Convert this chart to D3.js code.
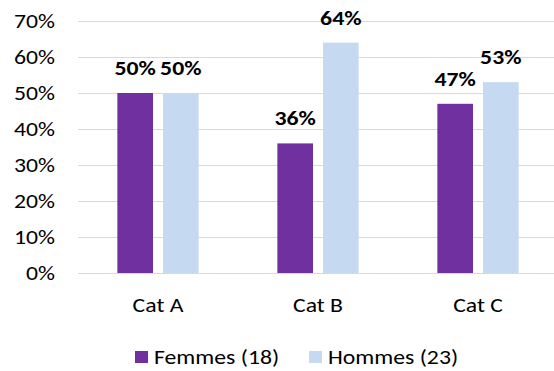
<!DOCTYPE html>
<html>
<head>
<meta charset="utf-8">
<script src="https://cdn.jsdelivr.net/npm/d3@7"></script>
<style>
	body { margin: 0; background: #fff; }
	svg text { font-family: Carlito, Calibri, Lato, sans-serif; fill: #000; }
</style>
</head>
<body>
<svg id="chart" width="554" height="371"></svg>
<script>
// chart data
const categories = ["Cat A", "Cat B", "Cat C"]
const seriesNames = ["Femmes (18)", "Hommes (23)"]
const femmes = [50, 36, 47]
const hommes = [50, 64, 53]
const yTicks = [0, 10, 20, 30, 40, 50, 60, 70]
const colors = ["#7030A0", "#C5D9F1"]

const fontFamily = "Carlito, Calibri, Lato, sans-serif"
const fontSize = "21px"
const textStretch = 1.13 // the source image is a little wider than Calibri
const svg = d3.select("#chart")

const x0 = d3.scaleBand().domain(categories).range([78, 558])
	.paddingInner(0.492).paddingOuter(0.246)
const x1 = d3.scaleBand().domain([0, 1]).range([0, x0.bandwidth()])
	.paddingInner(0.219).paddingOuter(0)
const y = d3.scaleLinear().domain([0, 70]).range([273, 21])

// gridlines
svg.append("g").selectAll("line")
	.data(yTicks)
	.join("line")
	.attr("x1", 78).attr("x2", 554)
	.attr("y1", d => Math.round(y(d)) + 0.5)
	.attr("y2", d => Math.round(y(d)) + 0.5)
	.attr("stroke", "#D9D9D9")
	.attr("stroke-width", 1)

// y axis labels
const yAxis = d3.axisLeft(y).tickValues(yTicks).tickFormat(d => d + "%").tickSize(0).tickPadding(0)
const yAxisGroup = svg.append("g").attr("transform", "translate(55,0)").call(yAxis)
yAxisGroup.select(".domain").remove()
yAxisGroup.selectAll("text")
	.style("font-size", fontSize)
	.style("font-family", fontFamily)
	.attr("dy", "0.33em")

// bars
const rows = categories.map((c, i) => ({cat: c, vals: [femmes[i], hommes[i]]}))
const groups = svg.append("g").selectAll("g")
	.data(rows)
	.join("g")
	.attr("transform", d => "translate(" + x0(d.cat) + ",0)")

groups.selectAll("rect")
	.data(d => d.vals.map((v, k) => ({k: k, v: v})))
	.join("rect")
	.attr("x", d => x1(d.k))
	.attr("width", x1.bandwidth())
	.attr("y", d => y(d.v))
	.attr("height", d => y(0) - y(d.v))
	.attr("fill", d => colors[d.k])

// value labels
groups.selectAll("text")
	.data(d => d.vals.map((v, k) => ({k: k, v: v})))
	.join("text")
	.attr("x", d => x1(d.k) + x1.bandwidth() / 2)
	.attr("y", d => y(d.v) - 18)
	.attr("text-anchor", "middle")
	.style("font-size", fontSize)
	.style("font-weight", "bold")
	.text(d => d.v + "%")

// x axis labels
const xAxis = d3.axisBottom(x0).tickSize(0).tickPadding(0)
const xAxisGroup = svg.append("g").attr("transform", "translate(0,312)").call(xAxis)
xAxisGroup.select(".domain").remove()
xAxisGroup.selectAll("text")
	.attr("dy", 0)
	.style("font-size", fontSize)
	.style("font-family", fontFamily)

// legend
const legendX = [135, 309]
const legend = svg.append("g").selectAll("g")
	.data(seriesNames)
	.join("g")
	.attr("transform", (d, i) => "translate(" + legendX[i] + ",0)")
legend.append("rect")
	.attr("x", 0).attr("y", 351)
	.attr("width", 13).attr("height", 12)
	.attr("fill", (d, i) => colors[i])
legend.append("text")
	.attr("x", 19).attr("y", 364)
	.style("font-size", fontSize)
	.text(d => d)

// widen all text a little
svg.selectAll("text").each(function(){
	const w = this.getComputedTextLength()
	d3.select(this)
		.attr("textLength", w * textStretch)
		.attr("lengthAdjust", "spacingAndGlyphs")
})
</script>
</body>
</html>
